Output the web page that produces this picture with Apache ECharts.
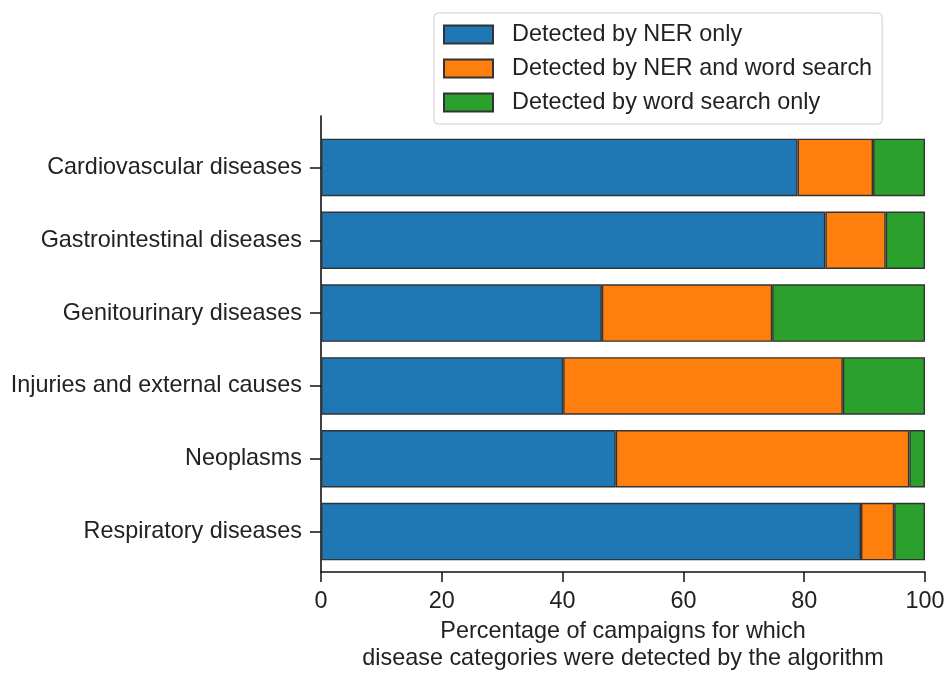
<!DOCTYPE html>
<html>
<head>
<meta charset="utf-8">
<script src="https://cdn.jsdelivr.net/npm/echarts@6/dist/echarts.min.js"></script>
<style>html,body{margin:0;padding:0;background:#fff;}#c{width:949px;height:677px;}</style>
</head>
<body>
<div id="c"></div>
<script>
var categories = ["Cardiovascular diseases","Gastrointestinal diseases","Genitourinary diseases","Injuries and external causes","Neoplasms","Respiratory diseases"];
var nerOnly = [78.9, 83.5, 46.5, 40.1, 48.8, 89.4];
var nerAndWord = [12.5, 10.0, 28.2, 46.3, 48.6, 5.5];
var wordOnly = [8.6, 6.5, 25.3, 13.6, 2.6, 5.1];
var seriesNames = ["Detected by NER only","Detected by NER and word search","Detected by word search only"];
var colors = ["#1f77b4","#ff7f0e","#2ca02c"];
var xTicks = [0, 20, 40, 60, 80, 100];

var FONT = "Liberation Sans, Arial, sans-serif";
var TXT = "#222";
var FS = 23.4;
var chart = echarts.init(document.getElementById('c'), null, {renderer:'canvas'});
function mk(name, data, i){
  return {name:name, type:'bar', stack:'total', xAxisIndex:1, yAxisIndex:1,
    barCategoryGap:'21%', data:data,
    itemStyle:{color:colors[i], borderColor:'#333', borderWidth:1.4}};
}
chart.setOption({
  animation:false,
  textStyle:{fontFamily:FONT},
  legend:{
    orient:'vertical', left:434, top:13,
    data:seriesNames,
    itemWidth:49, itemHeight:18, itemGap:11,
    padding:[10,10,10,9],
    borderColor:'#ccc', borderWidth:1, borderRadius:4,
    icon:'rect',
    textStyle:{fontSize:FS, color:TXT, fontFamily:FONT, padding:[0,0,0,14]}
  },
  grid:[
    {left:321, right:24, top:116, bottom:96, containLabel:false},
    {left:321, right:24, top:131, bottom:109, containLabel:false}
  ],
  xAxis:[
    {type:'value', gridIndex:0, min:xTicks[0], max:xTicks[xTicks.length-1], interval:20,
     axisLine:{show:true, lineStyle:{color:'#111', width:1.6}},
     axisTick:{show:true, length:10, lineStyle:{color:'#111', width:1.5}},
     axisLabel:{fontSize:FS, color:TXT, margin:18, fontFamily:FONT},
     splitLine:{show:false},
     name:"Percentage of campaigns for which\ndisease categories were detected by the algorithm",
     nameLocation:'middle', nameGap:46,
     nameTextStyle:{fontSize:FS, color:TXT, lineHeight:27, fontFamily:FONT}},
    {type:'value', gridIndex:1, min:0, max:100, show:false}
  ],
  yAxis:[
    {type:'value', gridIndex:0, min:0, max:1,
     axisLine:{show:true, lineStyle:{color:'#111', width:1.6}},
     axisTick:{show:false}, axisLabel:{show:false}, splitLine:{show:false}},
    {type:'category', gridIndex:1, data:categories, inverse:true,
     axisLine:{show:false},
     axisTick:{show:true, alignWithLabel:true, length:11, lineStyle:{color:'#111', width:1.5}},
     axisLabel:{fontSize:FS, color:TXT, margin:19, fontFamily:FONT, padding:[5,0,0,0]}}
  ],
  series:[
    mk(seriesNames[0], nerOnly, 0),
    mk(seriesNames[1], nerAndWord, 1),
    mk(seriesNames[2], wordOnly, 2)
  ]
});
</script>
</body>
</html>
